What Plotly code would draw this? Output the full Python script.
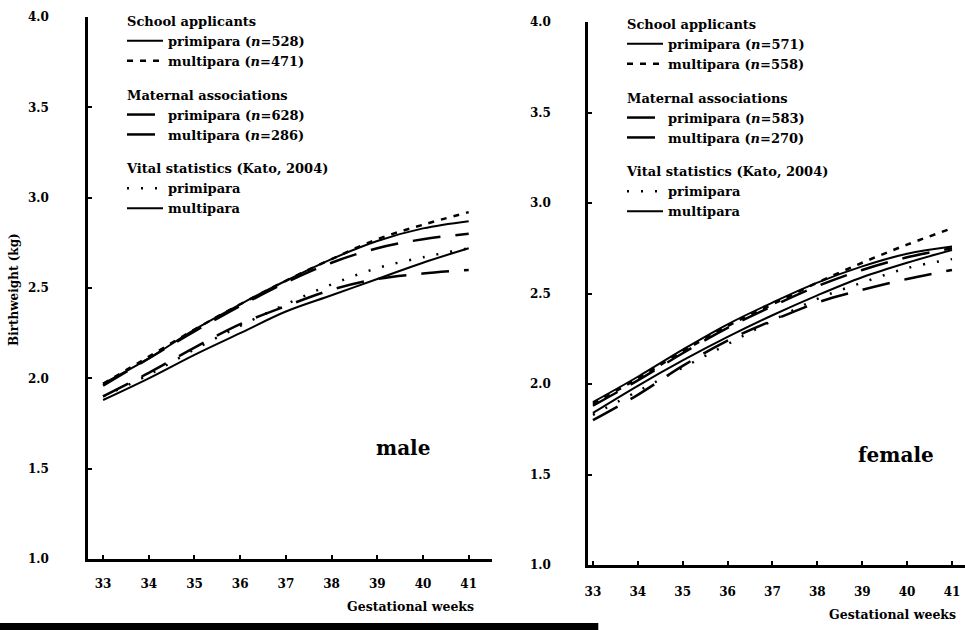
import plotly.graph_objects as go

weeks = [33, 34, 35, 36, 37, 38, 39, 40, 41]

# ---- male (left panel) ----
male_school_primi = [1.88, 2.00, 2.13, 2.25, 2.37, 2.46, 2.55, 2.64, 2.72]
male_school_multi = [1.97, 2.12, 2.27, 2.41, 2.54, 2.66, 2.77, 2.85, 2.92]
male_matern_primi = [1.90, 2.03, 2.17, 2.30, 2.40, 2.49, 2.55, 2.58, 2.60]
male_matern_multi = [1.96, 2.11, 2.26, 2.40, 2.53, 2.64, 2.72, 2.77, 2.80]
male_vital_primi = [1.90, 2.02, 2.16, 2.29, 2.41, 2.52, 2.61, 2.67, 2.72]
male_vital_multi = [1.97, 2.11, 2.27, 2.41, 2.54, 2.66, 2.76, 2.83, 2.87]
male_n = {"sp": 528, "sm": 471, "mp": 628, "mm": 286}

# ---- female (right panel) ----
fem_school_primi = [1.84, 1.99, 2.13, 2.26, 2.38, 2.49, 2.59, 2.67, 2.74]
fem_school_multi = [1.89, 2.03, 2.18, 2.32, 2.44, 2.56, 2.67, 2.77, 2.86]
fem_matern_primi = [1.80, 1.94, 2.10, 2.24, 2.35, 2.45, 2.52, 2.58, 2.63]
fem_matern_multi = [1.88, 2.02, 2.17, 2.31, 2.43, 2.54, 2.63, 2.70, 2.75]
fem_vital_primi = [1.83, 1.96, 2.09, 2.22, 2.35, 2.47, 2.56, 2.64, 2.69]
fem_vital_multi = [1.90, 2.04, 2.19, 2.33, 2.45, 2.56, 2.65, 2.72, 2.76]
fem_n = {"sp": 571, "sm": 558, "mp": 583, "mm": 270}

yticks = [1.0, 1.5, 2.0, 2.5, 3.0, 3.5, 4.0]
ytick_text = ["1.0", "1.5", "2.0", "2.5", "3.0", "3.5", "4.0"]

FONT = "DejaVu Serif"

styles = {
    "sp": dict(color="black", width=2, dash="solid"),
    "sm": dict(color="black", width=2.5, dash="6px,7px"),
    "mp": dict(color="black", width=2.5, dash="28px,15px"),
    "mm": dict(color="black", width=2.5, dash="28px,15px"),
    "vp": dict(color="black", width=2.5, dash="2px,12px"),
    "vm": dict(color="black", width=2, dash="solid"),
}

fig = go.Figure()


def add_panel(series, nvals, xa, ya, leg, tag):
    groups = [
        ("School applicants", [("sp", "primipara (<i>n</i>=%d)" % nvals["sp"]),
                               ("sm", "multipara (<i>n</i>=%d)" % nvals["sm"])]),
        ("Maternal associations", [("mp", "primipara (<i>n</i>=%d)" % nvals["mp"]),
                                   ("mm", "multipara (<i>n</i>=%d)" % nvals["mm"])]),
        ("Vital statistics (Kato, 2004)", [("vp", "primipara"), ("vm", "multipara")]),
    ]
    for gtitle, items in groups:
        for key, name in items:
            fig.add_trace(go.Scatter(
                x=weeks, y=series[key], mode="lines", name=name,
                line=dict(shape="spline", **styles[key]),
                legendgroup=tag + gtitle, legendgrouptitle_text=gtitle,
                xaxis=xa, yaxis=ya, legend=leg))


add_panel({"sp": male_school_primi, "sm": male_school_multi, "mp": male_matern_primi,
           "mm": male_matern_multi, "vp": male_vital_primi, "vm": male_vital_multi},
          male_n, "x", "y", "legend", "m")
add_panel({"sp": fem_school_primi, "sm": fem_school_multi, "mp": fem_matern_primi,
           "mm": fem_matern_multi, "vp": fem_vital_primi, "vm": fem_vital_multi},
          fem_n, "x2", "y2", "legend2", "f")

W, H = 965, 630

axis_common = dict(showline=True, linecolor="black", linewidth=2.5, ticks="inside",
                   ticklen=4, tickwidth=1.5, tickcolor="black", showgrid=False,
                   zeroline=False, mirror=False, automargin=False,
                   tickfont=dict(family=FONT, size=12, color="black", weight="bold"))

legend_common = dict(font=dict(family=FONT, size=13, color="black", weight="bold"),
                     grouptitlefont=dict(family=FONT, size=13, color="black", weight="bold"),
                     bgcolor="rgba(0,0,0,0)", xanchor="left", yanchor="top",
                     traceorder="grouped", tracegroupgap=14, itemwidth=36,
                     itemclick=False)

fig.update_layout(
    width=W, height=H, margin=dict(l=0, r=0, t=0, b=0, autoexpand=False),
    paper_bgcolor="white", plot_bgcolor="white",
    font=dict(family=FONT, color="black", weight="bold"),
    xaxis=dict(domain=[88 / W, 492 / W], range=[32.67, 41.51], tickvals=weeks,
               ticklabelstandoff=12, anchor="y", **axis_common),
    yaxis=dict(domain=[1 - 559 / H, 1 - 17 / H], range=[1.0, 4.0], tickvals=yticks,
               ticktext=ytick_text, ticklabelstandoff=34, anchor="x", **axis_common),
    xaxis2=dict(domain=[588 / W, 1.0], range=[32.89, 41.29], tickvals=weeks,
                ticklabelstandoff=14, anchor="y2", **axis_common),
    yaxis2=dict(domain=[1 - 565 / H, 1 - 22 / H], range=[1.0, 4.0], tickvals=yticks,
                ticktext=ytick_text, ticklabelstandoff=32, anchor="x2", **axis_common),
    legend=dict(x=122 / W, y=1 - 6 / H, **legend_common),
    legend2=dict(x=622 / W, y=1 - 9 / H, **legend_common),
    showlegend=True,
)

ann_font = dict(family=FONT, size=12.5, color="black", weight="bold")
fig.add_annotation(text="Birthweight (kg)", textangle=-90, x=14 / W, y=1 - 290 / H,
                   xanchor="center", yanchor="middle",
                   xref="paper", yref="paper", showarrow=False,
                   font=dict(family=FONT, size=12, color="black", weight="bold"))
fig.add_annotation(text="Gestational weeks", x=410 / W, y=1 - 606 / H,
                   xanchor="center", yanchor="middle",
                   xref="paper", yref="paper", showarrow=False, font=ann_font)
fig.add_annotation(text="Gestational weeks", x=892 / W, y=1 - 614 / H,
                   xanchor="center", yanchor="middle",
                   xref="paper", yref="paper", showarrow=False, font=ann_font)
fig.add_annotation(text="male", x=403 / W, y=1 - 448 / H, xref="paper", yref="paper",
                   xanchor="center", yanchor="middle", showarrow=False,
                   font=dict(family=FONT, size=20, color="black", weight="bold"))
fig.add_annotation(text="female", x=896 / W, y=1 - 455 / H, xref="paper", yref="paper",
                   xanchor="center", yanchor="middle", showarrow=False,
                   font=dict(family=FONT, size=20, color="black", weight="bold"))

# dark scan edge at the bottom of the page
fig.add_shape(type="rect", xref="paper", yref="paper", x0=0, x1=0.62, y0=0, y1=0.011,
              fillcolor="black", line=dict(width=0), layer="above")

fig.write_html("out.html")
